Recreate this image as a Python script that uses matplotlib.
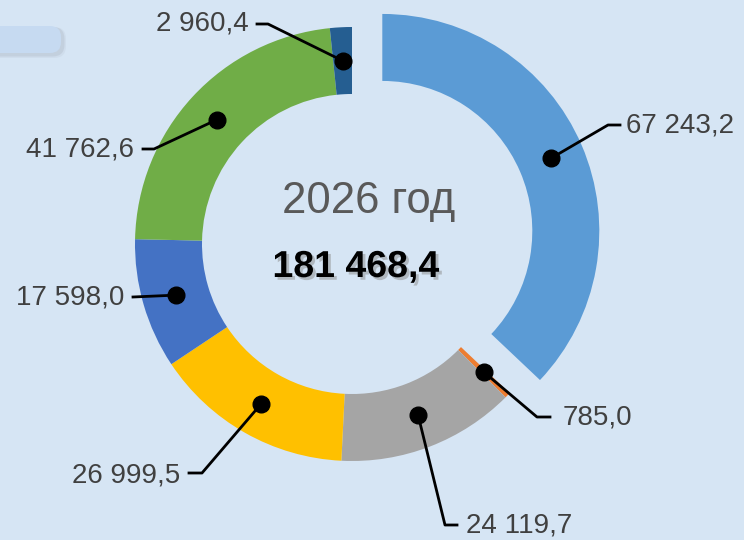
import matplotlib
import numpy as np

matplotlib.use("Agg")

import matplotlib.pyplot as plt
import matplotlib.patheffects as pe
from matplotlib.patches import FancyBboxPatch

plt.rcParams["font.family"] = ["Liberation Sans", "DejaVu Sans"]

# data
values = [67243.2, 785.0, 24119.7, 26999.5, 17598.0, 41762.6, 2960.4]
value_labels = ["67 243,2", "785,0", "24 119,7", "26 999,5", "17 598,0", "41 762,6", "2 960,4"]
colors = ["#5B9BD5", "#ED7D31", "#A5A5A5", "#FFC000", "#4472C4", "#70AD47", "#255E91"]
year_label = "2026 год"
total_label = "181 468,4"

# layout (pixel coords, y measured from bottom)
W, H = 744, 540
center = (352, 296)
outer_r = 217
ring_w = 67
explode = [33, 0, 0, 0, 0, 0, 0]
# (elbow, end of leader, text anchor, ha)
leaders = [
    ((608, 415), (620, 415), (626, 415), "left"),
    ((537, 123), (550, 123), (563, 122), "left"),
    ((445, 15), (457, 15), (466, 14), "left"),
    ((202, 67), (189, 67), (180, 65), "right"),
    ((133, 243), (133, 243), (124, 243), "right"),
    ((154, 391), (143, 391), (134, 390), "right"),
    ((268, 516), (257, 516), (249, 516), "right"),
]

fig = plt.figure(figsize=(W / 100, H / 100), dpi=100)
fig.patch.set_facecolor("#D6E5F4")
ax = fig.add_axes([0, 0, 1, 1])
ax.set_facecolor("#D6E5F4")

wedges, _ = ax.pie(values, colors=colors, startangle=90, counterclock=False,
                   radius=outer_r, center=center, explode=explode,
                   wedgeprops=dict(width=ring_w, linewidth=0))

ax.set_xlim(0, W)
ax.set_ylim(0, H)
ax.set_aspect("equal")
ax.axis("off")

# decorative box in the upper-left corner (soft shadow + light fill)
for pad, alpha in [(3, 0.15), (1.5, 0.3)]:
    ax.add_patch(FancyBboxPatch((-40, H - 55 - pad), 103 + pad, 28 + pad,
                                boxstyle="round,pad=0,rounding_size=12",
                                facecolor="#A9B3C0", edgecolor="none", alpha=alpha))
ax.add_patch(FancyBboxPatch((-40, H - 53), 101, 27, boxstyle="round,pad=0,rounding_size=11",
                            facecolor="#C6DAF1", edgecolor="none"))

r_mid = outer_r - ring_w / 2
for w, text, (elbow, end, tpos, ha) in zip(wedges, value_labels, leaders):
    theta = np.deg2rad((w.theta1 + w.theta2) / 2)
    cx, cy = w.center
    dot = (cx + r_mid * np.cos(theta), cy + r_mid * np.sin(theta))
    ax.plot([dot[0], elbow[0], end[0]], [dot[1], elbow[1], end[1]], color="black", linewidth=2)
    ax.plot(dot[0], dot[1], "o", color="black", markersize=12)
    ax.text(tpos[0], tpos[1], text, ha=ha, va="center", fontsize=20, color="#404040")

ax.text(369, 339, year_label, ha="center", va="center", fontsize=31.5, color="#595959")
ax.text(356, 273, total_label, ha="center", va="center", fontsize=27, fontweight="bold",
        color="black",
        path_effects=[pe.SimplePatchShadow(offset=(2, -2), shadow_rgbFace="#8c8c8c", alpha=0.5),
                      pe.Normal()])

fig.savefig("out.png", dpi=100, facecolor=fig.get_facecolor())
